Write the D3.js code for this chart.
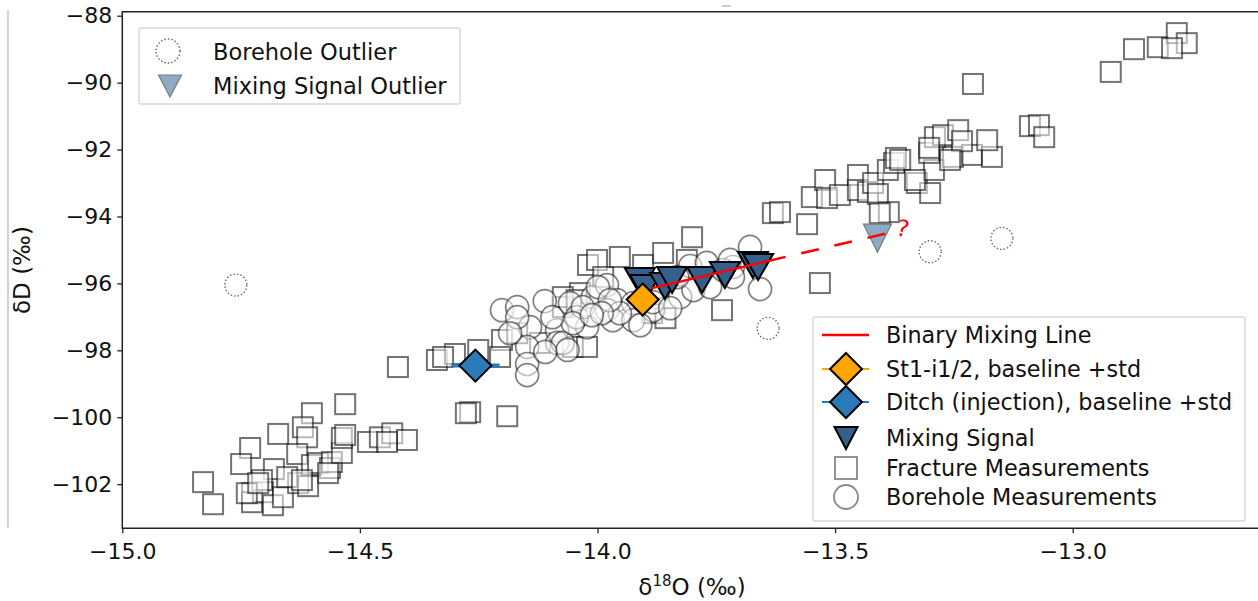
<!DOCTYPE html>
<html>
<head>
<meta charset="utf-8">
<script src="https://cdn.jsdelivr.net/npm/d3@7"></script>
<style>
  body { margin: 0; background: #fff; }
  svg { display: block; font-family: "DejaVu Sans", sans-serif; }
</style>
</head>
<body>
<div id="chart"></div>
<script>
// chart size
const width = 1258;
const height = 601;

// fracture measurements (squares)
const fractureX = [-14.830, -14.809, -14.731, -14.750, -14.672, -14.601, -14.531, -14.620, -14.611, -14.681,
  -14.727, -14.727, -14.704, -14.683, -14.662, -14.632, -14.630, -14.609, -14.601, -14.588,
  -14.563, -14.559, -14.538, -14.538, -14.531, -14.483, -14.458, -14.432, -14.401, -14.443,
  -14.706, -14.738, -14.653, -14.622, -14.567, -14.714, -14.420, -14.338, -14.300, -14.268,
  -14.277, -14.190, -14.251, -14.201, -14.205, -14.121, -14.052, -14.022, -14.073, -14.037,
  -14.020, -14.001, -13.988, -13.953, -13.904, -13.862, -13.812, -13.801, -13.885, -13.857,
  -13.738, -13.631, -13.559, -13.532, -14.169, -14.073, -14.044, -14.325, -13.616, -13.549,
  -13.521, -13.517, -13.490, -13.452, -13.452, -13.431, -13.420, -13.410, -13.389, -13.376,
  -13.372, -13.387, -13.328, -13.300, -13.292, -13.302, -13.252, -13.212, -13.170, -13.290,
  -13.273, -13.241, -13.233, -13.180, -13.302, -13.363, -13.332, -13.210, -13.090, -13.071,
  -13.060, -12.920, -12.871, -12.821, -12.781, -12.760, -12.791, -13.406, -13.258];
const fractureY = [-101.94, -102.60, -100.92, -101.40, -100.50, -99.88, -99.61, -100.30, -100.60, -101.55,
  -102.27, -102.54, -102.24, -102.63, -102.39, -101.10, -101.97, -102.06, -101.43, -101.37,
  -101.52, -101.34, -101.07, -100.62, -100.53, -100.74, -100.60, -100.48, -100.68, -100.74,
  -101.88, -102.27, -101.79, -101.88, -101.67, -101.97, -98.50, -98.29, -98.11, -99.85,
  -99.88, -99.97, -97.99, -97.69, -98.20, -97.78, -97.90, -97.90, -96.71, -96.29,
  -95.45, -95.30, -95.81, -95.21, -95.45, -95.09, -95.30, -94.62, -96.89, -97.04,
  -96.80, -93.90, -94.23, -95.99, -97.49, -96.41, -96.50, -98.20, -93.87, -93.42,
  -92.91, -93.45, -93.36, -92.76, -93.21, -93.27, -93.00, -93.33, -92.61, -92.40,
  -92.25, -93.87, -93.00, -93.30, -92.61, -92.10, -92.22, -92.16, -92.22, -91.63,
  -91.57, -91.42, -91.75, -91.72, -91.95, -92.31, -92.91, -90.04, -91.30, -91.27,
  -91.63, -89.68, -89.00, -88.94, -88.52, -88.82, -88.97, -93.90, -92.31];

// borehole measurements (circles)
const boreholeX = [-14.201, -14.169, -14.111, -14.058, -14.010, -13.980, -13.959, -13.980, -13.925, -13.883,
  -13.874, -13.826, -13.798, -13.763, -13.679, -13.658, -13.805, -13.770, -13.715, -13.736,
  -14.142, -14.148, -14.148, -14.085, -14.085, -14.022, -14.044, -13.968, -13.925, -14.169,
  -14.184, -13.953, -14.031, -13.999, -13.974, -13.991, -13.874, -13.832, -13.721, -13.715,
  -13.883, -13.847, -14.148, -14.073, -14.052, -14.012, -14.095, -14.063, -14.110, -13.910];
const boreholeY = [-96.80, -96.71, -96.53, -96.59, -96.41, -96.05, -96.50, -96.80, -96.59, -96.80,
  -96.29, -96.41, -96.20, -96.11, -94.91, -96.17, -95.48, -95.39, -95.51, -95.60,
  -97.31, -97.90, -98.41, -97.40, -97.78, -97.31, -97.01, -97.10, -97.10, -97.01,
  -97.49, -96.89, -96.71, -96.11, -96.50, -96.89, -96.11, -95.81, -95.30, -95.81,
  -96.56, -96.74, -98.74, -97.78, -97.19, -96.95, -97.01, -97.99, -98.05, -97.25];

// borehole outliers (dotted circles)
const outlierX = [-14.761, -13.641, -13.300, -13.149];
const outlierY = [-96.05, -97.345, -95.055, -94.655];

// mixing signal (triangles)
const mixX = [-13.911, -13.900, -13.858, -13.843, -13.780, -13.732, -13.673, -13.662];
const mixY = [-95.93, -96.14, -96.08, -95.90, -95.90, -95.75, -95.45, -95.51];

// mixing signal outlier
const mixOutX = [-13.411];
const mixOutY = [-94.646];

// end members (baseline +std in d18O)
const endX = [-13.905, -14.257];
const endY = [-96.484, -98.457];
const endStd = [0.02, 0.051];
const endColor = ["#ffa500", "#2a7ab8"];

// binary mixing line: solid part, then dashed extension
const lineX = [-13.887, -13.641];
const lineY = [-96.15, -95.33];
const dashX = [-13.641, -13.391];
const dashY = [-95.33, -94.505];

const xTicks = [-15.0, -14.5, -14.0, -13.5, -13.0];
const yTicks = [-88, -90, -92, -94, -96, -98, -100, -102];

const svg = d3.select("#chart").append("svg")
  .attr("width", width)
  .attr("height", height);

const x = d3.scaleLinear().domain([-15, -12.6]).range([122.3, 1262.8]);
const y = d3.scaleLinear().domain([-103.32, -87.88]).range([528.3, 11.7]);

// leftover border of the source figure
svg.append("line").attr("x1", 8).attr("x2", 8).attr("y1", 10).attr("y2", 528)
  .attr("stroke", "#b5b5b5").attr("stroke-width", 1.2);
svg.append("line").attr("x1", 722).attr("x2", 731).attr("y1", 6).attr("y2", 6)
  .attr("stroke", "#999").attr("stroke-width", 1);

const plot = svg.append("g");

// squares
const sq = 20;
plot.selectAll(".frac")
  .data(d3.range(fractureX.length))
  .enter().append("rect")
  .attr("x", i => x(fractureX[i]) - sq / 2)
  .attr("y", i => y(fractureY[i]) - sq / 2)
  .attr("width", sq).attr("height", sq)
  .attr("fill", "#fff").attr("fill-opacity", 0.5)
  .attr("stroke", "#000").attr("stroke-opacity", 0.55)
  .attr("stroke-width", 2);

// circles
plot.selectAll(".bore")
  .data(d3.range(boreholeX.length))
  .enter().append("circle")
  .attr("cx", i => x(boreholeX[i]))
  .attr("cy", i => y(boreholeY[i]))
  .attr("r", 11.5)
  .attr("fill", "#fff").attr("fill-opacity", 0.5)
  .attr("stroke", "#000").attr("stroke-opacity", 0.5)
  .attr("stroke-width", 1.7);

// outliers
plot.selectAll(".outl")
  .data(d3.range(outlierX.length))
  .enter().append("circle")
  .attr("cx", i => x(outlierX[i]))
  .attr("cy", i => y(outlierY[i]))
  .attr("r", 11)
  .attr("fill", "none")
  .attr("stroke", "#666").attr("stroke-width", 1.4)
  .attr("stroke-dasharray", "1.5,2");

// triangle pointing down, centred on its bounding box
function triDown(cx, cy, w, h) {
  return `M${cx - w / 2},${cy - h / 2}L${cx + w / 2},${cy - h / 2}L${cx},${cy + h / 2}Z`;
}
function diamond(cx, cy, r) {
  return `M${cx},${cy - r}L${cx + r},${cy}L${cx},${cy + r}L${cx - r},${cy}Z`;
}

plot.selectAll(".mix")
  .data(d3.range(mixX.length))
  .enter().append("path")
  .attr("d", i => triDown(x(mixX[i]), y(mixY[i]), 30, 26))
  .attr("fill", "#34608c")
  .attr("stroke", "#000").attr("stroke-width", 2)
  .attr("stroke-linejoin", "miter");

// mixing line
const line = d3.line().x(d => x(d[0])).y(d => y(d[1]));
plot.append("path")
  .attr("d", line(lineX.map((v, i) => [v, lineY[i]])))
  .attr("stroke", "#ff0000").attr("stroke-width", 2.5).attr("fill", "none");

// end members with std bars
endX.forEach((v, i) => {
  plot.append("line")
    .attr("x1", x(v - endStd[i])).attr("x2", x(v + endStd[i]))
    .attr("y1", y(endY[i])).attr("y2", y(endY[i]))
    .attr("stroke", endColor[i]).attr("stroke-width", 4);
  plot.append("path")
    .attr("d", diamond(x(v), y(endY[i]), 16))
    .attr("fill", endColor[i])
    .attr("stroke", "#000").attr("stroke-width", 2);
});

// mixing signal outlier
plot.selectAll(".mixout")
  .data(d3.range(mixOutX.length))
  .enter().append("path")
  .attr("d", i => triDown(x(mixOutX[i]), y(mixOutY[i]), 28, 28))
  .attr("fill", "#8eabc6")
  .attr("stroke", "#7a7a7a").attr("stroke-width", 1.2);

plot.append("path")
  .attr("d", line(dashX.map((v, i) => [v, dashY[i]])))
  .attr("stroke", "#ff0000").attr("stroke-width", 2.5).attr("fill", "none")
  .attr("stroke-dasharray", "18,16");

plot.append("text")
  .attr("x", x(dashX[1]) + 10).attr("y", y(dashY[1]) + 3)
  .attr("fill", "#ff0000").attr("font-size", 23)
  .attr("transform", `rotate(12, ${x(dashX[1]) + 16}, ${y(dashY[1]) - 6})`)
  .text("?");

// axes
const yAxis = svg.append("g")
  .attr("transform", "translate(122.3,0)")
  .call(d3.axisLeft(y).tickValues(yTicks).tickSize(5).tickPadding(5));
const xAxis = svg.append("g")
  .attr("transform", "translate(0,528.3)")
  .call(d3.axisBottom(x).tickValues(xTicks).tickFormat(d3.format(".1f")).tickSize(5).tickPadding(10));
[yAxis, xAxis].forEach(a => {
  a.select(".domain").remove();
  a.selectAll("text").attr("font-size", 22).attr("fill", "#111")
    .attr("font-family", "DejaVu Sans");
  a.selectAll("line").attr("stroke", "#222").attr("stroke-width", 1.3);
});

// spines
svg.append("path")
  .attr("d", "M1262.8,11.7H122.3V528.3H1262.8")
  .attr("fill", "none").attr("stroke", "#222").attr("stroke-width", 1.5);

// axis labels
const xl = svg.append("text")
  .attr("x", 692).attr("y", 595)
  .attr("text-anchor", "middle").attr("font-size", 23).attr("fill", "#111");
xl.append("tspan").text("δ");
xl.append("tspan").attr("font-size", 15).attr("dy", -9).text("18");
xl.append("tspan").attr("dy", 9).text("O (‰)");

svg.append("text")
  .attr("transform", "translate(30,270) rotate(-90)")
  .attr("text-anchor", "middle").attr("font-size", 23).attr("fill", "#111")
  .text("δD (‰)");

// legend 1
const leg1 = svg.append("g");
leg1.append("rect").attr("x", 139).attr("y", 28).attr("width", 321).attr("height", 76)
  .attr("rx", 2).attr("fill", "#fff").attr("fill-opacity", 0.85)
  .attr("stroke", "#d8d8d8").attr("stroke-width", 1.5);
leg1.append("circle").attr("cx", 168).attr("cy", 51).attr("r", 12)
  .attr("fill", "none").attr("stroke", "#666").attr("stroke-width", 1.4)
  .attr("stroke-dasharray", "1.5,2");
leg1.append("path").attr("d", triDown(170, 86, 23, 22))
  .attr("fill", "#8eabc6").attr("stroke", "#7a7a7a").attr("stroke-width", 1.2);
const leg1Labels = ["Borehole Outlier", "Mixing Signal Outlier"];
leg1.selectAll(".l1").data(leg1Labels).enter().append("text")
  .attr("x", 213).attr("y", (d, i) => [60, 94][i])
  .attr("font-size", 22.5).attr("fill", "#111").text(d => d);

// legend 2
const leg2 = svg.append("g");
leg2.append("rect").attr("x", 813).attr("y", 317).attr("width", 432).attr("height", 204)
  .attr("rx", 2).attr("fill", "#fff").attr("fill-opacity", 0.85)
  .attr("stroke", "#d8d8d8").attr("stroke-width", 1.5);
const leg2Labels = ["Binary Mixing Line", "St1-i1/2, baseline +std", "Ditch (injection), baseline +std",
  "Mixing Signal", "Fracture Measurements", "Borehole Measurements"];
const leg2Y = [335, 369, 402, 438, 468, 497];
leg2.selectAll(".l2").data(leg2Labels).enter().append("text")
  .attr("x", 886).attr("y", (d, i) => leg2Y[i] + 8)
  .attr("font-size", 22.3).attr("fill", "#111").text(d => d);
leg2.append("line").attr("x1", 822).attr("x2", 869).attr("y1", leg2Y[0]).attr("y2", leg2Y[0])
  .attr("stroke", "#ff0000").attr("stroke-width", 2.5);
[1, 2].forEach((k, i) => {
  leg2.append("line").attr("x1", 822).attr("x2", 869).attr("y1", leg2Y[k]).attr("y2", leg2Y[k])
    .attr("stroke", endColor[i]).attr("stroke-width", 2);
  leg2.append("path").attr("d", diamond(846, leg2Y[k], 16))
    .attr("fill", endColor[i]).attr("stroke", "#000").attr("stroke-width", 2);
});
leg2.append("path").attr("d", triDown(846, leg2Y[3], 23, 22))
  .attr("fill", "#34608c").attr("stroke", "#000").attr("stroke-width", 2);
leg2.append("rect").attr("x", 835).attr("y", leg2Y[4] - 11).attr("width", 22).attr("height", 22)
  .attr("fill", "#fff").attr("stroke", "#888").attr("stroke-width", 1.8);
leg2.append("circle").attr("cx", 846).attr("cy", leg2Y[5]).attr("r", 12)
  .attr("fill", "#fff").attr("stroke", "#888").attr("stroke-width", 1.8);
</script>
</body>
</html>
